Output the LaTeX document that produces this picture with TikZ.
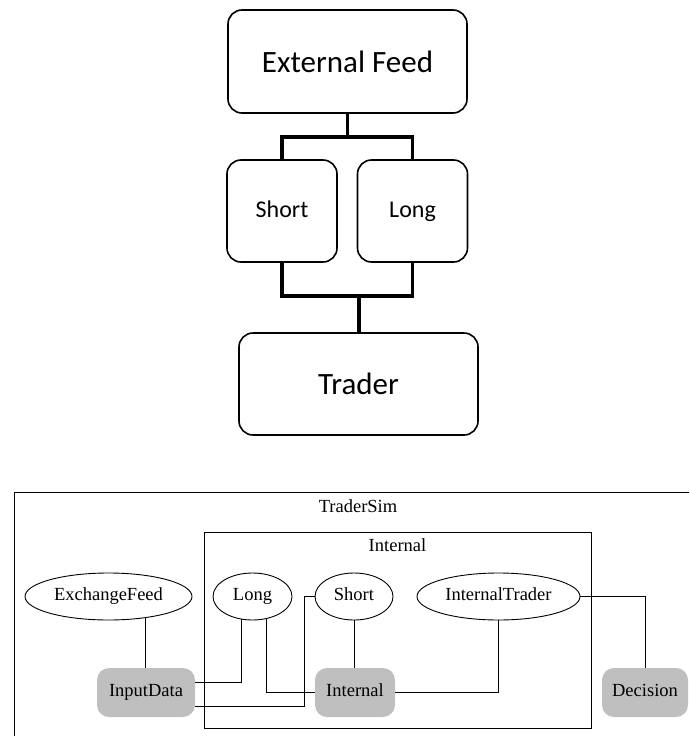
\documentclass[tikz,border=0pt]{standalone}
\usepackage{fontspec}
\setmainfont{Liberation Serif}
\newfontfamily\calibri{Carlito}
\usetikzlibrary{shapes.geometric}
\begin{document}
\begin{tikzpicture}[x=1pt,y=-1pt,
	box/.style={draw,line width=1.6pt,rounded corners=14pt,inner sep=0pt,font=\calibri},
	small/.style={box,minimum width=110pt,minimum height=102pt,text height=17pt,text depth=5pt,font=\calibri\fontsize{24}{28}\selectfont},
	big/.style={box,minimum width=239pt,font=\calibri\fontsize{31}{36}\selectfont},
	oval/.style={draw,ellipse,line width=0.9pt,inner sep=0pt,minimum height=47pt,text height=12.5pt,text depth=4pt},
	grey/.style={fill=gray!50,rounded corners=12pt,inner sep=0pt,minimum height=49pt,text height=12.5pt,text depth=4pt},
	wire/.style={line width=0.9pt},
	link/.style={line width=3.6pt}]
	\useasboundingbox (0,0) rectangle (689,736);
	\clip (0,0) rectangle (689,736);
	% upper diagram
	\node[big,minimum height=103pt] (feed) at (347.5,61.5) {External Feed};
	\node[small] (short) at (282,211) {Short};
	\node[small] (long) at (412.5,211) {Long};
	\node[big,minimum height=102pt] (trader) at (358.5,384) {Trader};
	\coordinate (split) at (347.5,137);
	\coordinate (join) at (359,296);
	\draw[link] (feed.south)--(split);
	\draw[link] (short.north) |- (split) -| (long.north);
	\draw[link] (short.south) |- (join) -| (long.south);
	\draw[link] (join)--(join |- trader.north);
	% lower diagram
	\begin{scope}[every node/.append style={font=\fontsize{18.5}{21}\selectfont}]
	\draw[wire] (14,492) rectangle (720,760);
	\node (simlabel) at (358,506) {TraderSim};
	\node[draw,line width=0.9pt,minimum width=387pt,minimum height=196pt,inner sep=0pt] (inner) at (397.5,630) {};
	\node[below=4pt] (innerlabel) at (inner.north) {Internal};
	\node[oval,minimum width=167pt] (exfeed) at (108.5,596.5) {ExchangeFeed};
	\node[oval,minimum width=79pt] (olong) at (252.5,596.5) {Long};
	\node[oval,minimum width=78pt] (oshort) at (354,596.5) {Short};
	\node[oval,minimum width=163pt] (itrader) at (498.5,596.5) {InternalTrader};
	\node[grey,minimum width=98pt] (input) at (146,692.5) {InputData};
	\node[grey,minimum width=80pt] (internal) at (355,692.5) {Internal};
	\node[grey,minimum width=86pt] (decision) at (645,692.5) {Decision};
	\draw[wire] (exfeed.-30)--(exfeed.-30 |- input.north);
	\draw[wire] ([yshift=10pt]input.east) -| (olong.244);
	\draw[wire] (olong.302) |- (internal.west);
	\draw[wire] ([yshift=-14pt]input.east) -- ++(109,0) |- (oshort.west);
	\draw[wire] (oshort.south)--(oshort.south |- internal.north);
	\draw[wire] (internal.east) -| (itrader.south);
	\draw[wire] (itrader.east) -| (decision.north);
	\end{scope}
\end{tikzpicture}
\end{document}
